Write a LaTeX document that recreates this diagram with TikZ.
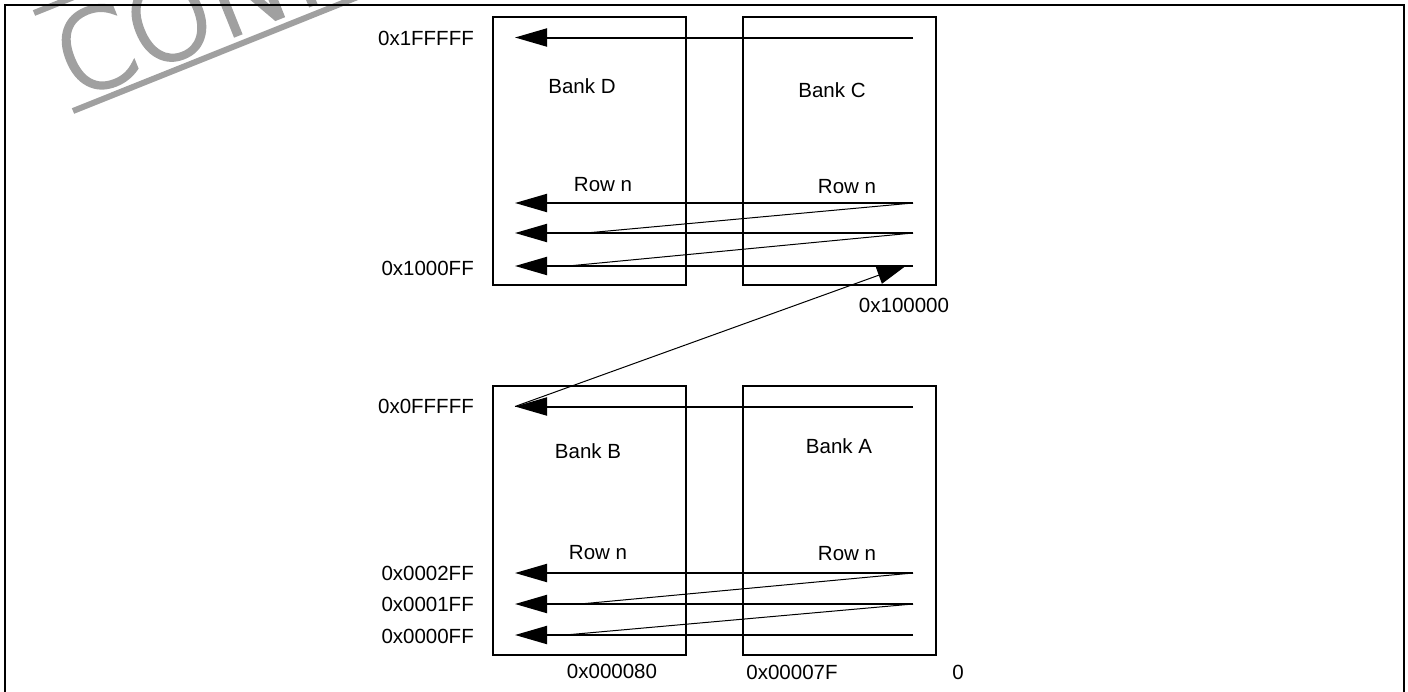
\documentclass[tikz,border=0pt]{standalone}
\usepackage{fontspec}
\setmainfont{Liberation Sans}
\IfFontExistsTF{DejaVu Sans ExtraLight}{\newfontfamily\wmfont{DejaVu Sans ExtraLight}[FakeBold=3.5]}{\newfontfamily\wmfont{Liberation Sans}}
\usetikzlibrary{arrows.meta}
\definecolor{wmgray}{RGB}{160,160,160}
\begin{document}
\begin{tikzpicture}[x=1pt,y=-1pt,
  lbl/.style={font=\fontsize{20.5}{24}\selectfont, inner sep=0pt},
  bankbox/.style={draw, line width=2pt, minimum width=193pt, inner sep=0pt},
  rowarrow/.style={line width=2pt, -{Triangle[length=32pt,width=18pt]}},
  thinline/.style={line width=1pt},
  crossarrow/.style={line width=1pt, -{Triangle[length=30pt,width=18pt]}},
  wmline/.style={line width=6pt, wmgray},
  wmtext/.style={font=\wmfont\fontsize{108}{130}\selectfont, text=wmgray, inner sep=0pt},
  frameline/.style={line width=2pt}]
\useasboundingbox (0,0) rectangle (1408,691);
\clip (0,0) rectangle (1408,691);
% watermark
\coordinate (wmA1) at (73,111);
\coordinate (wmA2) at (420,-28);
\coordinate (wmB1) at (34,13);
\coordinate (wmB2) at (90,-9.5);
\draw[wmline] (wmA1) -- (wmA2);
\draw[wmline] (wmB1) -- (wmB2);
\node[wmtext, anchor=base west, rotate=21.9] (wm) at (74,100) {CONFIDENTIAL};
% frame
\coordinate (fBL) at (5,700);
\coordinate (fTL) at (5,4.5);
\coordinate (fTR) at (1403.5,4.5);
\coordinate (fBR) at (1403.5,700);
\draw[frameline] (fBL) -- (fTL) -- (fTR) -- (fBR);
% bank boxes
\node[bankbox, minimum height=268pt] (bankDbox) at (589.5,151) {};
\node[bankbox, minimum height=268pt] (bankCbox) at (839.5,151) {};
\node[bankbox, minimum height=269pt] (bankBbox) at (589.5,520.5) {};
\node[bankbox, minimum height=269pt] (bankAbox) at (839.5,520.5) {};
% bank labels
\node[lbl, anchor=base] (bankD) at (582,93) {Bank D};
\node[lbl, anchor=base] (bankC) at (832,97) {Bank C};
\node[lbl, anchor=base] (bankB) at (588,458) {Bank B};
\node[lbl, anchor=base] (bankA) at (839,453) {Bank A};
\node[lbl, anchor=base] (rowDn) at (603,191) {Row n};
\node[lbl, anchor=base] (rowCn) at (847,193) {Row n};
\node[lbl, anchor=base] (rowBn) at (598,559) {Row n};
\node[lbl, anchor=base] (rowAn) at (847,560) {Row n};
% address labels
\node[lbl, anchor=base east] (a1FFFFF) at (474,45) {0x1FFFFF};
\node[lbl, anchor=base east] (a1000FF) at (474,275) {0x1000FF};
\node[lbl, anchor=base east] (a0FFFFF) at (474,413) {0x0FFFFF};
\node[lbl, anchor=base east] (a0002FF) at (474,580) {0x0002FF};
\node[lbl, anchor=base east] (a0001FF) at (474,611) {0x0001FF};
\node[lbl, anchor=base east] (a0000FF) at (474,643) {0x0000FF};
\node[lbl, anchor=base] (a100000) at (904,312) {0x100000};
\node[lbl, anchor=base] (a000080) at (612,678) {0x000080};
\node[lbl, anchor=base] (a00007F) at (792,679) {0x00007F};
\node[lbl, anchor=base] (a0) at (958,679) {0};
% upper group coordinates
\coordinate (uR0) at (913,37.5);  \coordinate (uL0) at (515,37.5);
\coordinate (uR1) at (913,203);   \coordinate (uL1) at (515,203);
\coordinate (uR2) at (913,233);   \coordinate (uL2) at (515,233);
\coordinate (uR3) at (913,266);   \coordinate (uL3) at (515,266);
\coordinate (uD2) at (586,233);
\coordinate (uD3) at (568,266);
% lower group coordinates
\coordinate (lR0) at (913,406.5); \coordinate (lL0) at (515,406.5);
\coordinate (lR1) at (913,573);   \coordinate (lL1) at (515,573);
\coordinate (lR2) at (913,604);   \coordinate (lL2) at (515,604);
\coordinate (lR3) at (913,635);   \coordinate (lL3) at (515,635);
\coordinate (lD2) at (580,604);
\coordinate (lD3) at (565,635);
\coordinate (crossEnd) at (907,265);
% row arrows
\foreach \g in {u,l}{
  \foreach \i in {0,1,2,3}{
    \draw[rowarrow] (\g R\i) -- (\g L\i);
  }
}
% diagonals
\draw[thinline] (uR1) -- (uD2);
\draw[thinline] (uR2) -- (uD3);
\draw[thinline] (lR1) -- (lD2);
\draw[thinline] (lR2) -- (lD3);
% cross arrow
\draw[crossarrow] (lL0) -- (crossEnd);
\end{tikzpicture}
\end{document}
